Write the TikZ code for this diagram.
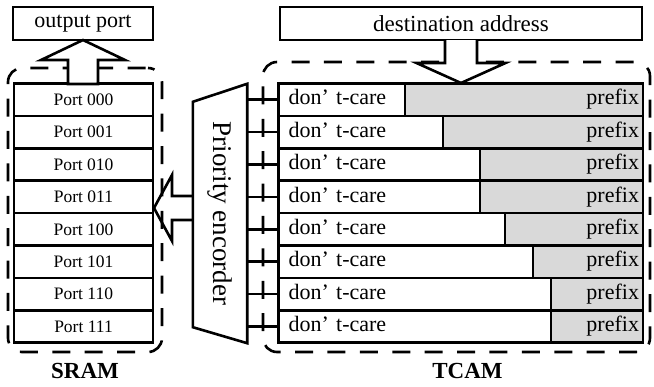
\documentclass[tikz,border=0pt]{standalone}
\usepackage{fontspec}
\setmainfont{Liberation Serif}
\usepackage{graphicx}
\usetikzlibrary{positioning}
\tikzstyle{box}=[
	rectangle,
	draw,
	line width=2.6pt,
	inner sep=0pt,
	outer sep=0pt
]
\tikzstyle{port}=[
	box,
	minimum width=139pt,
	minimum height=32.4pt,
	font=\fontsize{17.5}{20}\selectfont
]
\tikzstyle{carebox}=[
	box,
	minimum height=32.4pt,
	inner xsep=10pt,
	align=left,
	execute at begin node=\strut,
	font=\fontsize{22}{26}\selectfont
]
\tikzstyle{prefixbox}=[
	box,
	fill=black!15,
	minimum height=32.4pt,
	inner xsep=4pt,
	align=right,
	execute at begin node=\strut,
	font=\fontsize{22}{26}\selectfont
]
\tikzstyle{region}=[
	rectangle,
	draw,
	line width=2.6pt,
	outer sep=0pt,
	dash pattern=on 18pt off 14.4pt,
	dash phase=29.9pt,
	rounded corners=14pt
]
\tikzstyle{wire}=[
	line width=2.6pt
]
\tikzstyle{bigarrow}=[
	line width=2.6pt,
	line join=miter
]
\tikzstyle{blocktitle}=[
	inner sep=0pt,
	font=\fontsize{23}{26}\selectfont\bfseries
]

\begin{document}
\begin{tikzpicture}[x=1pt,y=-1pt]
\useasboundingbox (0,0) rectangle (654,386);
% dashed blocks
\node [region, minimum width=154pt, minimum height=284pt] (sram) at (85,210) {};
\node [region, minimum width=387pt, minimum height=290pt] (tcam) at (456.5,207) {};
\node [blocktitle] (sramlabel)[below=11pt of sram] {SRAM};
\node [blocktitle] (tcamlabel)[below=11pt of tcam, xshift=11pt] {TCAM};
% SRAM entries
\node [port] (p000) at (83.5,99.7) {Port 000};
\node [port] (p001)[below=0pt of p000] {Port 001};
\node [port] (p010)[below=0pt of p001] {Port 010};
\node [port] (p011)[below=0pt of p010] {Port 011};
\node [port] (p100)[below=0pt of p011] {Port 100};
\node [port] (p101)[below=0pt of p100] {Port 101};
\node [port] (p110)[below=0pt of p101] {Port 110};
\node [port] (p111)[below=0pt of p110] {Port 111};
% TCAM entries
\node [carebox, text width=106.5pt, anchor=west] (care1) at (278.5,99.7) {don’ t-care};
\node [prefixbox, text width=230pt] (prefix1)[right=0pt of care1] {prefix};
\node [carebox, text width=144.5pt] (care2)[below right=0pt and 0pt of care1.south west] {don’ t-care};
\node [prefixbox, text width=192pt] (prefix2)[right=0pt of care2] {prefix};
\node [carebox, text width=181.5pt] (care3)[below right=0pt and 0pt of care2.south west] {don’ t-care};
\node [prefixbox, text width=155pt] (prefix3)[right=0pt of care3] {prefix};
\node [carebox, text width=181.5pt] (care4)[below right=0pt and 0pt of care3.south west] {don’ t-care};
\node [prefixbox, text width=155pt] (prefix4)[right=0pt of care4] {prefix};
\node [carebox, text width=206.5pt] (care5)[below right=0pt and 0pt of care4.south west] {don’ t-care};
\node [prefixbox, text width=130pt] (prefix5)[right=0pt of care5] {prefix};
\node [carebox, text width=234.5pt] (care6)[below right=0pt and 0pt of care5.south west] {don’ t-care};
\node [prefixbox, text width=102pt] (prefix6)[right=0pt of care6] {prefix};
\node [carebox, text width=252.5pt] (care7)[below right=0pt and 0pt of care6.south west] {don’ t-care};
\node [prefixbox, text width=84pt] (prefix7)[right=0pt of care7] {prefix};
\node [carebox, text width=252.5pt] (care8)[below right=0pt and 0pt of care7.south west] {don’ t-care};
\node [prefixbox, text width=84pt] (prefix8)[right=0pt of care8] {prefix};
% priority encorder
\node [inner sep=0pt, minimum width=54pt, minimum height=259pt, font=\fontsize{27}{30}\selectfont] (enc) at (220,213.5) {\rotatebox{-90}{Priority encorder}};
\draw [bigarrow] (enc.north east) -- (enc.south east) -- ([yshift=16pt]enc.south west) -- ([yshift=-18pt]enc.north west) -- cycle;
\draw [wire] (care1.west) -- (care1.west -| enc.east);
\draw [wire] (care2.west) -- (care2.west -| enc.east);
\draw [wire] (care3.west) -- (care3.west -| enc.east);
\draw [wire] (care4.west) -- (care4.west -| enc.east);
\draw [wire] (care5.west) -- (care5.west -| enc.east);
\draw [wire] (care6.west) -- (care6.west -| enc.east);
\draw [wire] (care7.west) -- (care7.west -| enc.east);
\draw [wire] (care8.west) -- (care8.west -| enc.east);
% top boxes
\node [box, minimum width=140pt, minimum height=33pt, font=\fontsize{22}{26}\selectfont] (outport) at (83,23.5) {output port};
\node [box, minimum width=362pt, minimum height=33pt, font=\fontsize{23}{26}\selectfont] (dest) at (461,23.5) {destination address};
% block arrows
\draw [bigarrow, fill=white] (outport.south) -- ++(42,20) -- ++(-27,0) -- ++(0,24) -- ++(-30,0) -- ++(0,-24) -- ++(-27,0) -- cycle;
\draw [bigarrow, fill=white] ([xshift=-16pt]dest.south) -- ++(0,23) -- ++(-28.5,0) -- ++(44.5,20) -- ++(44.5,-20) -- ++(-28.5,0) -- ++(0,-23);
\draw [bigarrow] (enc.west |- 0,196) -- (172,196) -- (172,175) -- (154,208) -- (172,241) -- (172,220) -- (enc.west |- 0,220);
\end{tikzpicture}
\end{document}
